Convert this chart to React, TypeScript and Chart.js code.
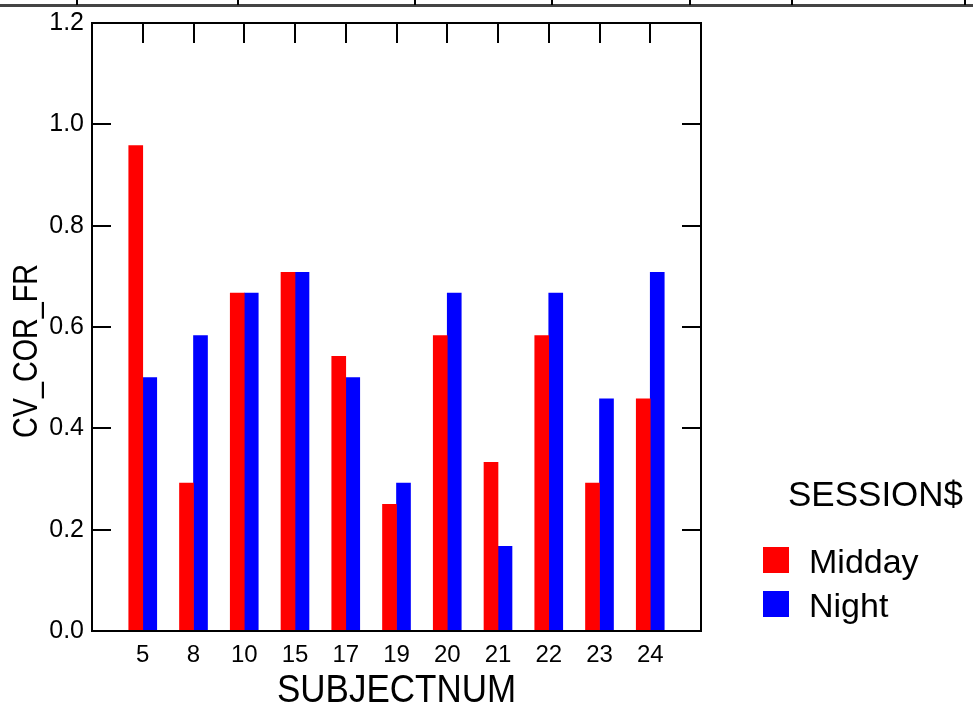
import React, { useEffect, useRef } from 'react';
import { Chart, registerables } from 'chart.js';

Chart.register(...registerables);

// Subjects on the x axis and the CV of correct-response FR per session
const subjects = ['5', '8', '10', '15', '17', '19', '20', '21', '22', '23', '24'];
const midday = [0.958, 0.292, 0.667, 0.708, 0.542, 0.25, 0.583, 0.333, 0.583, 0.292, 0.458];
const night = [0.5, 0.583, 0.667, 0.708, 0.5, 0.292, 0.667, 0.167, 0.667, 0.458, 0.708];
const yTicks = [0, 0.2, 0.4, 0.6, 0.8, 1.0, 1.2];
const sessionNames = ['Midday', 'Night'];
const sessionColors = ['#ff0000', '#0000ff'];
const legendTitle = 'SESSION$';
const xTitle = 'SUBJECTNUM';
const yTitle = 'CV_COR_FR';

// Strip along the top edge (ruler of the panel above)
const topRuleTicks = [77, 238, 415, 552, 690, 792, 965];

const FONT = '"Liberation Sans", Arial, Helvetica, sans-serif';
const W = 973;
const H = 708;

// one empty slot on each side so the first/last subject sit a full step in
const xLabels = ['', ...subjects, ''];
const pad = (arr: number[]) => [null, ...arr, null];

const framePlugin = {
  id: 'frameAndDecor',
  afterDatasetsDraw(chart: any) {
    const { ctx, chartArea, scales } = chart;
    const { left, right, top, bottom } = chartArea;
    ctx.save();
    ctx.strokeStyle = '#000';
    ctx.lineWidth = 2;
    ctx.strokeRect(left, top, right - left, bottom - top);
    ctx.beginPath();
    const ys = scales.y;
    ys.ticks.forEach((t: any) => {
      if (t.value <= ys.min || t.value >= ys.max) return;
      const y = Math.round(ys.getPixelForValue(t.value));
      ctx.moveTo(left, y);
      ctx.lineTo(left + 19, y);
      ctx.moveTo(right - 19, y);
      ctx.lineTo(right, y);
    });
    subjects.forEach((_, i) => {
      const x = Math.round(scales.x.getPixelForValue(i + 1));
      ctx.moveTo(x, top);
      ctx.lineTo(x, top + 20);
    });
    ctx.stroke();

    // y axis title, rotated and condensed along its length
    ctx.fillStyle = '#000';
    ctx.font = `35px ${FONT}`;
    ctx.textAlign = 'center';
    ctx.textBaseline = 'middle';
    ctx.translate(27, (top + bottom) / 2 + 24);
    ctx.rotate(-Math.PI / 2);
    const natural = ctx.measureText(yTitle).width;
    ctx.scale(174 / natural, 1);
    ctx.fillText(yTitle, 0, 0);
    ctx.restore();

    // x axis title, slightly tall
    const xs = scales.x;
    ctx.save();
    ctx.fillStyle = '#000';
    ctx.font = `35px ${FONT}`;
    ctx.textAlign = 'center';
    ctx.textBaseline = 'alphabetic';
    ctx.translate((xs.left + xs.right) / 2, 702);
    ctx.scale(1, 1.1);
    ctx.fillText(xTitle, 0, 0);
    ctx.restore();
  },
  afterDraw(chart: any) {
    const { ctx } = chart;
    ctx.save();
    // top rule
    ctx.fillStyle = '#444';
    ctx.fillRect(0, 4, W, 3);
    ctx.fillStyle = '#000';
    topRuleTicks.forEach((x) => ctx.fillRect(x - 1, 0, 2, 5));

    // legend
    ctx.fillStyle = '#000';
    ctx.font = `35px ${FONT}`;
    ctx.textAlign = 'left';
    ctx.textBaseline = 'alphabetic';
    ctx.fillText(legendTitle, 788, 506);
    ctx.font = `34px ${FONT}`;
    chart.data.datasets.forEach((ds: any, i: number) => {
      const y = 547 + i * 44;
      ctx.fillStyle = ds.backgroundColor;
      ctx.fillRect(763, y, 26, 26);
      ctx.fillStyle = '#000';
      ctx.fillText(ds.label, 809, y + 26);
    });
    ctx.restore();
  },
};

export default function App() {
  const canvasRef = useRef<HTMLCanvasElement | null>(null);

  useEffect(() => {
    const canvas = canvasRef.current;
    if (!canvas) return;
    const chart = new Chart(canvas, {
      type: 'bar',
      data: {
        labels: xLabels,
        datasets: [
          {
            label: sessionNames[0],
            data: pad(midday),
            backgroundColor: sessionColors[0],
            borderWidth: 0,
            barThickness: 14,
          },
          {
            label: sessionNames[1],
            data: pad(night),
            backgroundColor: sessionColors[1],
            borderWidth: 0,
            barThickness: 14,
          },
        ] as any,
      },
      options: {
        responsive: false,
        animation: false,
        devicePixelRatio: 1,
        layout: { padding: { top: 22, right: 272, left: 0, bottom: 0 } },
        plugins: {
          legend: { display: false },
          tooltip: { enabled: false },
        },
        scales: {
          x: {
            type: 'category',
            offset: false,
            grid: { display: false, drawTicks: false },
            border: { display: false },
            ticks: {
              color: '#000',
              font: { family: FONT, size: 24 },
              padding: 10,
              autoSkip: false,
              maxRotation: 0,
            },
            title: { display: false, text: xTitle },
            afterFit(scale: any) {
              scale.height = 77;
            },
          },
          y: {
            min: 0,
            max: 1.2,
            grid: { display: false, drawTicks: false },
            border: { display: false },
            ticks: {
              color: '#000',
              font: { family: FONT, size: 25 },
              padding: 8,
              callback: (v: any) => Number(v).toFixed(1),
            },
            afterBuildTicks(scale: any) {
              scale.ticks = yTicks.map((value) => ({ value }));
            },
            afterFit(scale: any) {
              scale.width = 92;
            },
          },
        },
      } as any,
      plugins: [framePlugin],
    });
    return () => chart.destroy();
  }, []);

  return (
    <div style={{ position: 'absolute', left: 0, top: 0, width: W, height: H, background: '#fff' }}>
      <canvas ref={canvasRef} width={W} height={H} style={{ display: 'block' }} />
    </div>
  );
}
